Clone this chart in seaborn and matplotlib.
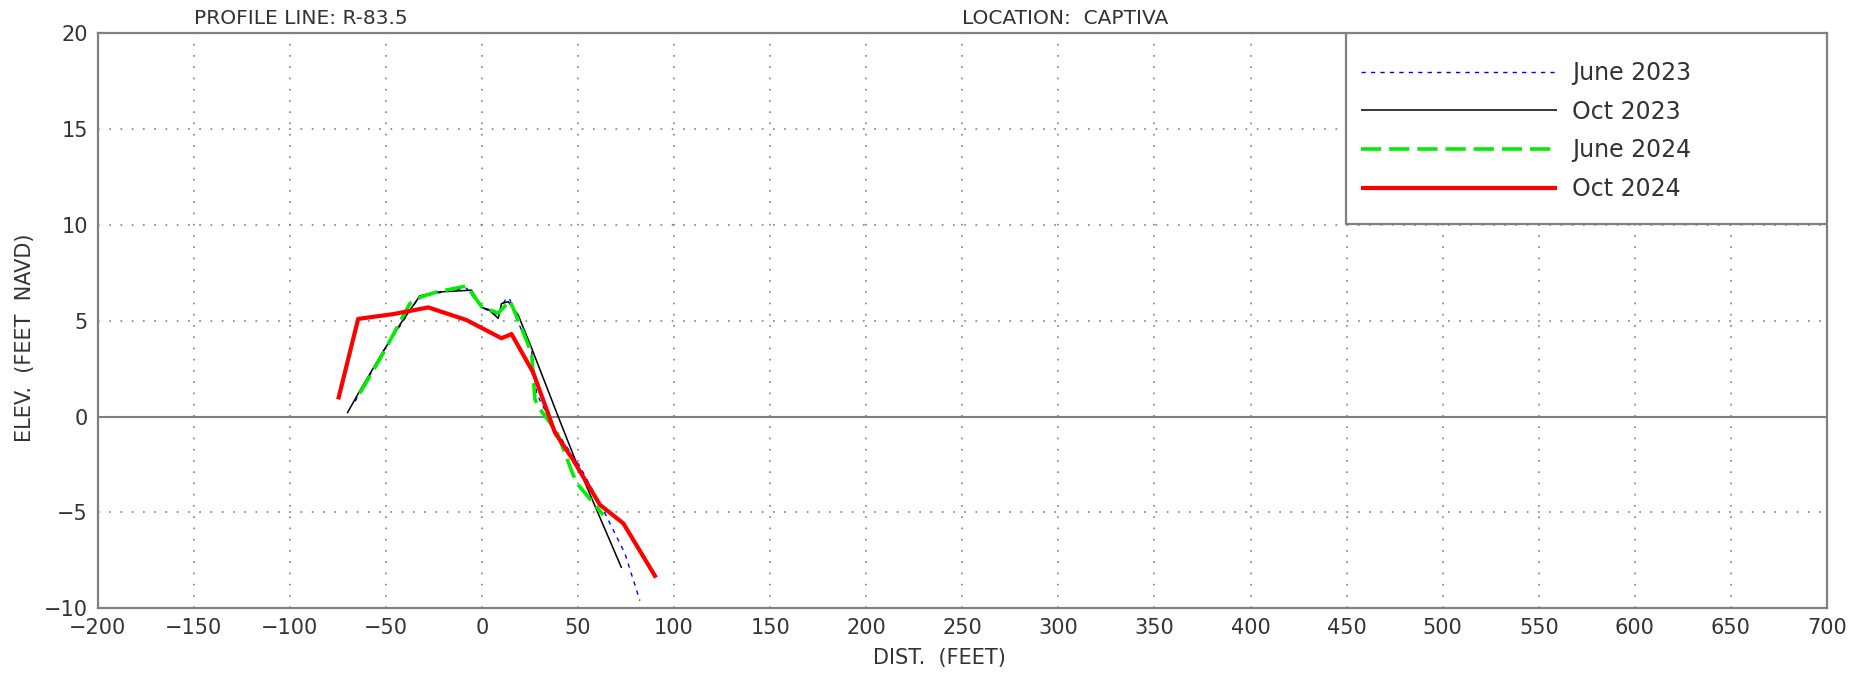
import matplotlib
matplotlib.use("Agg")
import matplotlib.pyplot as plt
from matplotlib.patches import Rectangle
import seaborn as sns
import pandas as pd

# ---------------- data ----------------
x_jun23 = [-66, -51.4, -32.3, -8.0, -0.2, 8.5, 11.0, 12.9, 14.6, 18.0, 25.9, 28.5, 37.1, 51.0, 64.0, 74.4, 82.2]
y_jun23 = [0.8, 3.4, 6.3, 6.7, 5.7, 5.3, 5.9, 6.2, 6.1, 5.1, 3.4, 1.2, -0.52, -2.6, -5.04, -7.13, -9.6]

x_oct23 = [-70.1, -64.4, -51.4, -42.7, -32.3, -23.6, -5.4, -0.2, 3.3, 8.5, 10.2, 13.7, 18.9, 25.9, 39.7, 49.3, 72.7]
y_oct23 = [0.18, 1.2, 3.4, 4.8, 6.3, 6.5, 6.6, 5.7, 5.6, 5.13, 5.9, 6.0, 5.3, 3.57, 0.0, -2.43, -7.9]

x_jun24 = [-63.5, -51.4, -37.5, -31.4, -23.6, -8.0, -0.2, 8.5, 14.6, 20.7, 25.9, 27.6, 30.2, 38.9, 47.5, 50.1, 63.2]
y_jun24 = [1.22, 3.3, 5.9, 6.26, 6.5, 6.82, 5.75, 5.4, 6.05, 4.6, 3.3, 0.9, 0.39, -0.78, -3.04, -3.56, -5.13]

x_oct24 = [-74.8, -64.4, -46.2, -27.9, -8.0, 10.2, 15.4, 26.7, 38.0, 47.5, 61.4, 73.6, 90.6]
y_oct24 = [0.9, 5.1, 5.35, 5.7, 5.04, 4.09, 4.31, 2.3, -0.83, -2.26, -4.6, -5.57, -8.4]

series_names = ["June 2023", "Oct 2023", "June 2024", "Oct 2024"]
x_ticks = list(range(-200, 701, 50))
y_ticks = list(range(-10, 21, 5))

# ---------------- style ----------------
sns.set_theme(style="white")
plt.rcParams["font.family"] = ["DejaVu Sans"]
GRAY = "#808080"
TXT = "#333333"

fig = plt.figure(figsize=(18.66, 6.74), dpi=100)
ax = fig.add_axes([0.0523, 0.0975, 0.9268, 0.8530])

styles = [
    dict(color="#0000ff", linewidth=1.0, dashes=(3.1, 3.7)),
    dict(color="#000000", linewidth=1.1, dashes=None),
    dict(color="#00ee00", linewidth=2.6, dashes=(5.6, 2.2)),
    dict(color="#ff0000", linewidth=3.0, dashes=None),
]
xs = [x_jun23, x_oct23, x_jun24, x_oct24]
ys = [y_jun23, y_oct23, y_jun24, y_oct24]

for name, xv, yv, st in zip(series_names, xs, ys, styles):
    df = pd.DataFrame({"x": xv, "y": yv})
    sns.lineplot(data=df, x="x", y="y", ax=ax, sort=False, estimator=None,
                 color=st["color"], linewidth=st["linewidth"], label=name, zorder=3)
    ln = ax.lines[-1]
    if st["dashes"] is not None:
        ln.set_dashes(st["dashes"])
    ln.set_solid_capstyle("butt")

ax.set_xlim(-200, 700)
ax.set_ylim(-10, 20)
ax.set_xticks(x_ticks)
ax.set_yticks(y_ticks)

# grid
for xv in x_ticks[1:-1]:
    ax.axvline(xv, color=GRAY, linewidth=1.2, linestyle=(0, (1, 5.75)), zorder=1)
for yv in y_ticks[1:-1]:
    if yv == 0:
        ax.axhline(0, color=GRAY, linewidth=1.5, zorder=1)
    else:
        ax.axhline(yv, color=GRAY, linewidth=1.2, linestyle=(0, (1, 5.75)), zorder=1)

for sp in ax.spines.values():
    sp.set_color(GRAY)
    sp.set_linewidth(1.6)
    sp.set_visible(True)

ax.tick_params(axis="both", length=0, labelsize=15, labelcolor=TXT)
ax.tick_params(axis="x", pad=7)
ax.tick_params(axis="y", pad=7)

ax.set_xlabel("DIST.  (FEET)", fontsize=15, color=TXT)
ax.set_ylabel("ELEV.  (FEET  NAVD)", fontsize=15, color=TXT)
ax.xaxis.set_label_coords(0.487, -0.069)
ax.yaxis.set_label_coords(-0.036, 0.47)

# legend box and legend
ax.add_patch(Rectangle((0.7219, 0.669), 1 - 0.7219, 0.331, transform=ax.transAxes,
                       fill=True, facecolor="white", edgecolor=GRAY, linewidth=1.6, zorder=4))
leg = ax.legend(loc="upper left", bbox_to_anchor=(0.7305, 0.952), frameon=False,
                fontsize=17, handlelength=8.3, handletextpad=0.65, labelspacing=0.62,
                borderpad=0, borderaxespad=0)
leg.set_zorder(5)
for t in leg.get_texts():
    t.set_color(TXT)

# titles
tr = matplotlib.transforms.blended_transform_factory(ax.transData, fig.transFigure)
ax.text(-150, 1 - 24 / 674, "PROFILE LINE: R-83.5", transform=tr, fontsize=14.5,
        color=TXT, ha="left", va="baseline")
ax.text(250, 1 - 24 / 674, "LOCATION:  CAPTIVA", transform=tr, fontsize=14.5,
        color=TXT, ha="left", va="baseline")

fig.savefig("out.png", dpi=100)
